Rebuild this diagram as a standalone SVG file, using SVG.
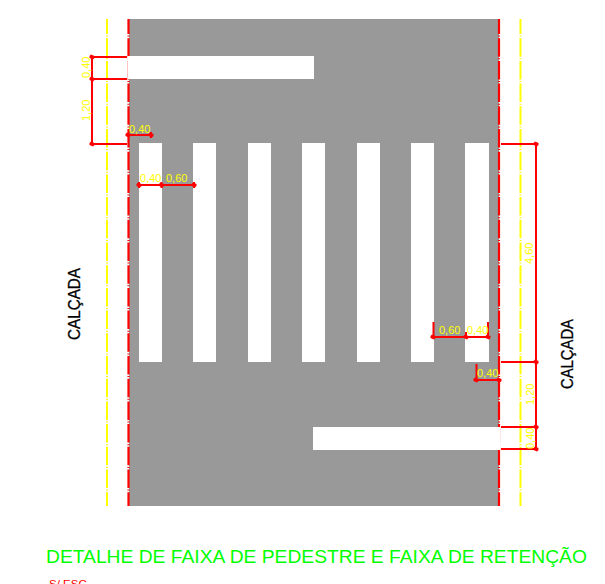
<svg xmlns="http://www.w3.org/2000/svg" width="605" height="584" viewBox="0 0 605 584">
<defs>
<style>
.road{fill:#999999}
.paint{fill:#ffffff}
.axis{fill:none;stroke:#ffff00;stroke-width:2;stroke-dasharray:18.5 1.6 1 1.6;stroke-dashoffset:3.5}
.edge{fill:none;stroke:#ff0000;stroke-width:2.2;stroke-dasharray:18.5 1.6 1 1.6;stroke-dashoffset:3.5}
.dim{fill:none;stroke:#ff0000;stroke-width:2}
.tick{fill:#ff0000}
text{font-family:"Liberation Sans",Arial,sans-serif}
.dt{fill:#ffff00;font-size:11px}
.side{fill:#000000;stroke:#000000;stroke-width:0.3;font-size:17px}
.title{fill:#00ff00;font-size:19.25px}
.note{fill:#ff0000;font-size:11.500px}
</style>
<g id="t"><path class="tick" d="M-2.500 -1L-1 -2.500L2.500 -1L2.500 1L1 2.500L-2.500 1Z"/></g>
</defs>
<rect width="605" height="584" fill="#ffffff"/>
<g id="road">
<rect class="road" x="129" y="19" width="370" height="487"/>
</g>
<g id="crossing">
<rect class="paint" x="139" y="143" width="23" height="219"/>
<rect class="paint" x="193" y="143" width="23" height="219"/>
<rect class="paint" x="248" y="143" width="23" height="219"/>
<rect class="paint" x="302" y="143" width="23" height="219"/>
<rect class="paint" x="357" y="143" width="23" height="219"/>
<rect class="paint" x="411" y="143" width="23" height="219"/>
<rect class="paint" x="465" y="143" width="24" height="219"/>
</g>
<g id="lines">
<path class="axis" d="M107 19V506"/>
<path class="axis" d="M520.500 19V506"/>
<path class="edge" d="M128.500 19V506"/>
<path class="edge" d="M499 19V506"/>
</g>
<g id="retention">
<rect class="paint" x="127.400" y="56" width="186.600" height="23"/>
<rect class="paint" x="313" y="427" width="187" height="23"/>
</g>
<g id="connectors">
<path class="dim" d="M91 57H127M91 79H127M91 144H127M92 56V144"/>
<path class="dim" d="M128 135H151M151 132V138"/>
<path class="dim" d="M139 185H194M139 182V188M161.500 182V188M194 182V188"/>
<path class="dim" d="M501 144H536M501 362H536M501 427H536M501 449H536M536 144V450"/>
<path class="dim" d="M433 337H488M433.500 322V338M466 332V338M488 322V338"/>
<path class="dim" d="M476 380H500M476.500 364V381"/>
<use href="#t" x="92" y="57"/><use href="#t" x="92" y="79"/><use href="#t" x="92" y="144"/>
<use href="#t" x="128" y="135"/><use href="#t" x="151" y="135"/>
<use href="#t" x="139" y="185"/><use href="#t" x="161.500" y="185"/><use href="#t" x="194" y="185"/>
<use href="#t" x="536" y="144"/><use href="#t" x="536" y="362"/><use href="#t" x="536" y="427"/><use href="#t" x="536" y="449"/>
<use href="#t" x="433" y="337"/><use href="#t" x="466" y="337"/><use href="#t" x="488" y="337"/>
<use href="#t" x="476" y="380"/><use href="#t" x="499" y="380"/>
</g>
<g id="dimension-labels">
<text class="dt" transform="translate(90 78) rotate(-90)">0,40</text>
<text class="dt" transform="translate(90 121) rotate(-90)">1,20</text>
<text class="dt" x="129" y="133">0,40</text>
<text class="dt" x="140" y="182">0,40</text>
<text class="dt" x="166" y="182">0,60</text>
<text class="dt" transform="translate(533 264) rotate(-90)">4,60</text>
<text class="dt" transform="translate(534 405) rotate(-90)">1,20</text>
<text class="dt" transform="translate(534 449) rotate(-90)">0,40</text>
<text class="dt" x="439" y="334">0,60</text>
<text class="dt" x="467" y="334">0,40</text>
<text class="dt" x="477" y="377">0,40</text>
</g>
<g id="label-left"><text class="side" transform="translate(79.500 340) rotate(-90)" textLength="72" lengthAdjust="spacingAndGlyphs">CALÇADA</text></g>
<g id="label-right"><text class="side" transform="translate(572.500 389) rotate(-90)" textLength="70" lengthAdjust="spacingAndGlyphs">CALÇADA</text></g>
<g id="title"><text class="title" x="46" y="563">DETALHE DE FAIXA DE PEDESTRE E FAIXA DE RETENÇÃO</text></g>
<g id="note"><text class="note" x="49" y="588">S/ ESC</text></g>
</svg>
